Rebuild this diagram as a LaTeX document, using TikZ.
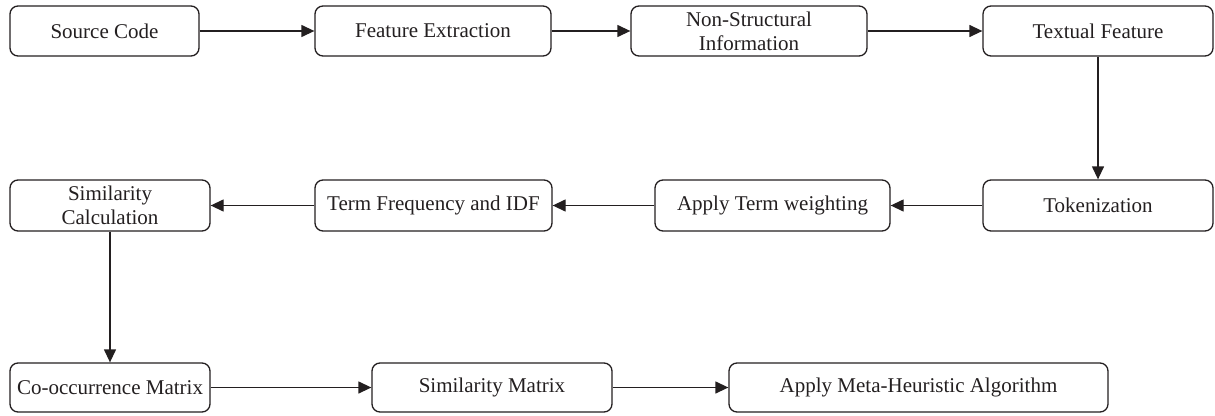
\documentclass[tikz,border=0pt]{standalone}
\usepackage{fontspec}
\setmainfont{Liberation Serif}
\usetikzlibrary{arrows.meta}
\definecolor{ink}{HTML}{231F20}
\begin{document}
\begin{tikzpicture}[x=1pt,y=-1pt,
  box/.style={draw=ink, line width=1.3pt, rounded corners=8pt, inner sep=0pt, align=center, text=ink,
    font=\fontsize{21}{24}\selectfont},
  conn/.style={draw=ink, line width=1.3pt, -{Triangle[length=13pt,width=12pt]}}]
\useasboundingbox (0,0) rectangle (1215,415);
% row 1
\node[box, minimum width=189pt, minimum height=50pt] (src) at (104.5,31) {Source Code};
\node[box, minimum width=236pt, minimum height=50pt] (fe) at (433,31) {Feature Extraction};
\node[box, minimum width=236pt, minimum height=50pt] (nsi) at (749,31) {Non-Structural\\Information};
\node[box, minimum width=230pt, minimum height=50pt] (tf) at (1098,31) {Textual Feature};
% row 2
\node[box, minimum width=230pt, minimum height=51pt] (tok) at (1098,205.5) {Tokenization};
\node[box, minimum width=235pt, minimum height=51pt] (atw) at (772.5,205.5) {Apply Term weighting};
\node[box, minimum width=237pt, minimum height=51pt] (tfidf) at (433.5,205.5) {Term Frequency and IDF};
\node[box, minimum width=200pt, minimum height=51pt] (sc) at (110,205.5) {Similarity\\Calculation};
% row 3
\node[box, minimum width=200pt, minimum height=49pt] (co) at (110,387.5) {Co-occurrence Matrix};
\node[box, minimum width=240pt, minimum height=49pt] (sm) at (492,387.5) {Similarity Matrix};
\node[box, minimum width=379pt, minimum height=49pt] (meta) at (918.5,387.5) {Apply Meta-Heuristic Algorithm};
% connectors
\draw[conn] (src) -- (fe);
\draw[conn] (fe) -- (nsi);
\draw[conn] (nsi) -- (tf);
\draw[conn] (tf) -- (tok);
\draw[conn] (tok) -- (atw);
\draw[conn] (atw) -- (tfidf);
\draw[conn] (tfidf) -- (sc);
\draw[conn] (sc) -- (co);
\draw[conn] (co) -- (sm);
\draw[conn] (sm) -- (meta);
\end{tikzpicture}
\end{document}
